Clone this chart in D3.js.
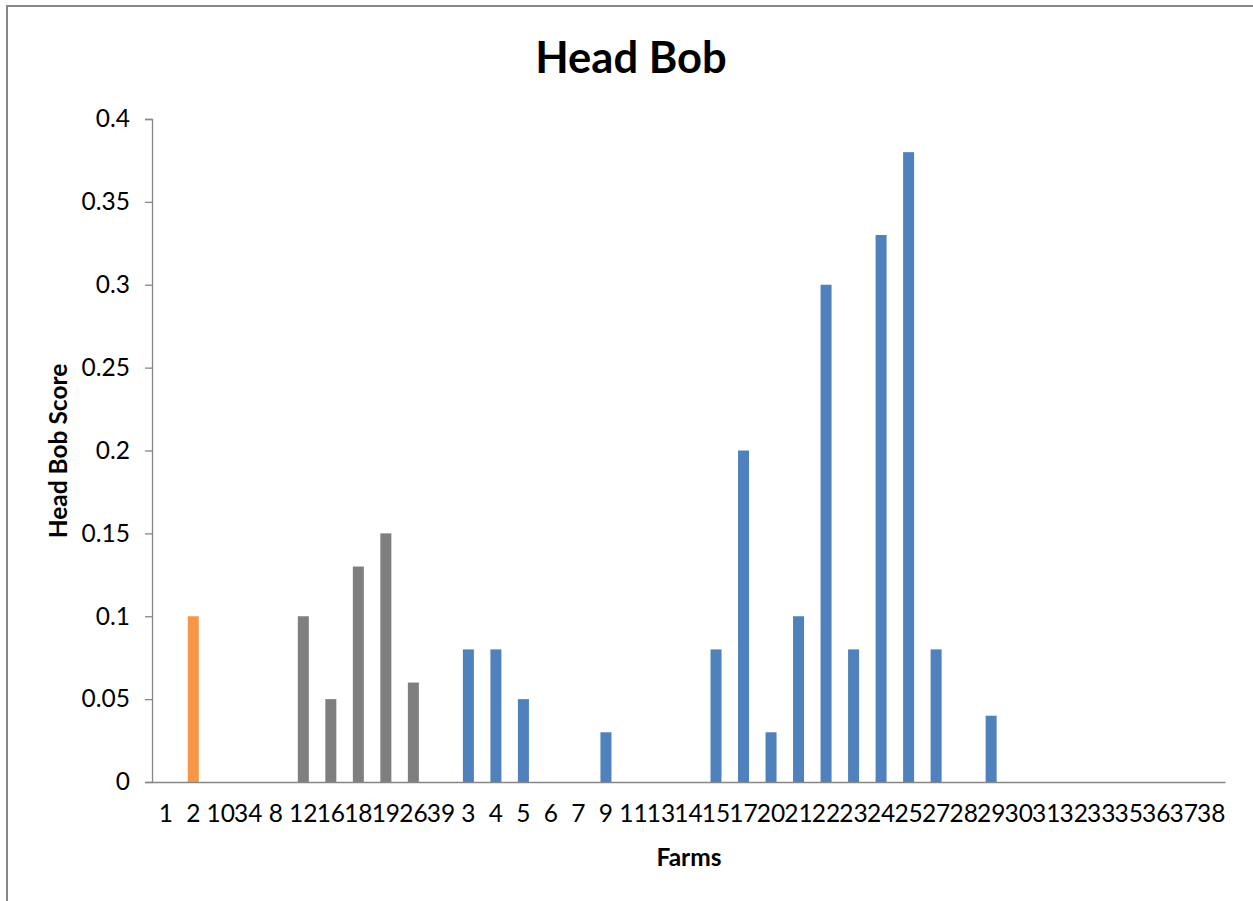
<!DOCTYPE html>
<html>
<head>
<meta charset="utf-8">
<script src="https://cdn.jsdelivr.net/npm/d3@7"></script>
<style>
  html, body { margin: 0; padding: 0; background: #fff; }
  svg { display: block; }
</style>
</head>
<body>
<svg id="chart" width="1253" height="901"></svg>
<script>
// Farm labels in display order
const farms = ["1","2","10","34","8","12","16","18","19","26","39","3","4","5","6","7","9","11","13","14","15","17","20","21","22","23","24","25","27","28","29","30","31","32","33","35","36","37","38"];
// Head bob score per farm
const scores = [0, 0.1, 0, 0, 0, 0.1, 0.05, 0.13, 0.15, 0.06, 0, 0.08, 0.08, 0.05, 0, 0, 0.03, 0, 0, 0, 0.08, 0.2, 0.03, 0.1, 0.3, 0.08, 0.33, 0.38, 0.08, 0, 0.04, 0, 0, 0, 0, 0, 0, 0, 0];
// Group each farm belongs to (drives bar colour)
const groups = ["A","B","C","C","C","C","C","C","C","C","C","D","D","D","D","D","D","D","D","D","D","D","D","D","D","D","D","D","D","D","D","D","D","D","D","D","D","D","D"];
const yTicks = [0, 0.05, 0.1, 0.15, 0.2, 0.25, 0.3, 0.35, 0.4];

const groupColor = { A: "#4f81bd", B: "#f79646", C: "#7f7f7f", D: "#4f81bd" };

const svg = d3.select("#chart");
const W = 1253, H = 901;
const plot = { left: 152, right: 1225, top: 119, bottom: 782 };
const font = "Lato, 'Open Sans', sans-serif";

// outer chart frame
svg.append("rect")
  .attr("x", 7).attr("y", 6)
  .attr("width", W).attr("height", H)
  .attr("fill", "none").attr("stroke", "#888888").attr("stroke-width", 2);

const data = farms.map((f, i) => ({ farm: f, value: scores[i], group: groups[i] }));

const x = d3.scaleBand().domain(farms).range([plot.left, plot.right]).paddingInner(0.6).paddingOuter(0.3);
const y = d3.scaleLinear().domain([0, 0.4]).range([plot.bottom, plot.top]);

// bars
svg.append("g").selectAll("rect").data(data.filter(d => d.value > 0)).join("rect")
  .attr("x", d => x(d.farm))
  .attr("width", x.bandwidth())
  .attr("y", d => y(d.value))
  .attr("height", d => y(0) - y(d.value))
  .attr("fill", d => groupColor[d.group]);

// y axis
const yAxis = svg.append("g")
  .attr("transform", `translate(${plot.left},0)`)
  .call(d3.axisLeft(y).tickValues(yTicks).tickSize(7).tickPadding(15).tickFormat(d => d3.format("")(d)));
yAxis.select(".domain").attr("stroke", "#868686").attr("stroke-width", 1.3);
yAxis.selectAll(".tick line").attr("stroke", "#868686").attr("stroke-width", 1.3);
yAxis.selectAll(".tick text").attr("font-family", font).attr("font-size", 24.5).attr("fill", "#000");

// x axis
const xBand = d3.scaleBand().domain(farms).range([plot.left, plot.right]);
const xAxis = svg.append("g")
  .attr("transform", `translate(0,${plot.bottom})`)
  .call(d3.axisBottom(xBand).tickSize(0).tickPadding(23));
xAxis.select(".domain").attr("stroke", "#868686").attr("stroke-width", 1.3);
xAxis.selectAll(".tick text").attr("font-family", font).attr("font-size", 24.5).attr("fill", "#000");

// title
svg.append("text")
  .attr("x", 631).attr("y", 73)
  .attr("text-anchor", "middle")
  .attr("font-family", font).attr("font-weight", "bold").attr("font-size", 43.5)
  .text("Head Bob");

// axis titles
svg.append("text")
  .attr("x", 689).attr("y", 866)
  .attr("text-anchor", "middle")
  .attr("font-family", font).attr("font-weight", "bold").attr("font-size", 24.5)
  .text("Farms");

svg.append("text")
  .attr("transform", "translate(67,451) rotate(-90)")
  .attr("text-anchor", "middle")
  .attr("font-family", font).attr("font-weight", "bold").attr("font-size", 24.5)
  .text("Head Bob Score");
</script>
</body>
</html>
